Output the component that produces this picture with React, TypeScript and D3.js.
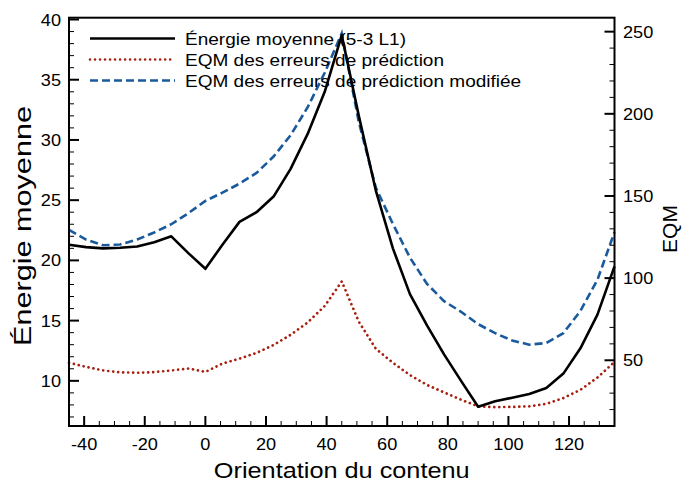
import * as d3 from "d3";

// orientation samples (degrees)
const angles = [
  -45, -39.375, -33.75, -28.125, -22.5, -16.875, -11.25, -5.625, 0, 5.625, 11.25,
  16.875, 22.5, 28.125, 33.75, 39.375, 45, 50.625, 56.25, 61.875, 67.5, 73.125,
  78.75, 84.375, 90, 95.625, 101.25, 106.875, 112.5, 118.125, 123.75, 129.375, 135,
];

// left axis: mean energy
const energie = [
  21.3, 21.1, 21.0, 21.05, 21.15, 21.5, 22.0, 20.6, 19.3, 21.3, 23.2,
  24.0, 25.3, 27.6, 30.5, 34.0, 38.7, 32.0, 25.8, 21.0, 17.2, 14.6,
  12.2, 10.0, 7.85, 8.3, 8.6, 8.9, 9.4, 10.6, 12.7, 15.5, 19.5,
];

// right axis: EQM of prediction errors
const eqm = [
  48.5, 46, 43.8, 42.7, 42.4, 42.8, 43.8, 45, 42.9, 48, 51,
  54.5, 59.3, 65.5, 73, 83, 98, 73.5, 57, 48.5, 41, 35,
  30.5, 26, 22, 21.5, 21.6, 22, 23.5, 27, 32, 39.5, 49,
];

// right axis: modified EQM
const eqmMod = [
  129.3, 123.5, 120.0, 120.5, 123.5, 127.8, 132.8, 139.5, 147.0, 152, 157.5,
  164, 174, 187, 204, 225, 249, 195, 155, 133, 112.5, 96.5,
  86, 79.5, 72, 66.5, 62, 59.5, 60.5, 66.5, 80, 99, 128,
];

const legendLabels = [
  "Énergie moyenne (5-3 L1)",
  "EQM des erreurs de prédiction",
  "EQM des erreurs de prédiction modifiée",
];

const xTicks = [-40, -20, 0, 20, 40, 60, 80, 100, 120];
const yLeftTicks = [10, 15, 20, 25, 30, 35, 40];
const yRightTicks = [50, 100, 150, 200, 250];

const W = 683;
const H = 484;
const m = { left: 69, right: 614.5, top: 17.7, bottom: 426 };
const font = "'Liberation Sans', Arial, Helvetica, sans-serif";

const black = "#000000";
const red = "#a81e0e";
const blue = "#1a5a9c";

// reference text is a bit wider than tall
const SX = 1.1;

export default function App() {
  const x = d3.scaleLinear().domain([-45, 135]).range([m.left, m.right]);
  const yL = d3.scaleLinear().domain([6.25, 40.15]).range([m.bottom, m.top]);
  const yR = d3.scaleLinear().domain([10, 258.5]).range([m.bottom, m.top]);

  const lineL = d3
    .line<number>()
    .x((_, i) => x(angles[i]))
    .y((d) => yL(d));
  const lineR = d3
    .line<number>()
    .x((_, i) => x(angles[i]))
    .y((d) => yR(d));

  const xMinor = d3.range(-45, 136, 5).filter((v) => !xTicks.includes(v));
  const yLMinor = d3.range(7, 41, 1).filter((v) => !yLeftTicks.includes(v));
  const yRMinor = d3.range(20, 251, 10).filter((v) => !yRightTicks.includes(v));

  return (
    <svg
      width={W}
      height={H}
      style={{ position: "absolute", left: 0, top: 0, background: "#fff" }}
      fontFamily={font}
    >
      {/* curves */}
      <path d={lineR(eqm) ?? ""} fill="none" stroke={red} strokeWidth={2.7}
        strokeDasharray="0.01 5" strokeLinecap="round" />
      <path d={lineR(eqmMod) ?? ""} fill="none" stroke={blue} strokeWidth={2.6}
        strokeDasharray="8 4" />
      <path d={lineL(energie) ?? ""} fill="none" stroke={black} strokeWidth={2.6}
        strokeLinejoin="round" />

      {/* frame */}
      <rect x={m.left} y={m.top} width={m.right - m.left} height={m.bottom - m.top}
        fill="none" stroke="#000" strokeWidth={2} />

      {/* bottom axis */}
      {xTicks.map((t) => (
        <g key={"xt" + t}>
          <line x1={x(t)} x2={x(t)} y1={m.bottom} y2={m.bottom - 10} stroke="#000" strokeWidth={2} />
          <text transform={`translate(${x(t)},450) scale(${SX},1)`} textAnchor="middle" fontSize={16.5}>{t}</text>
        </g>
      ))}
      {xMinor.map((t) => (
        <line key={"xm" + t} x1={x(t)} x2={x(t)} y1={m.bottom} y2={m.bottom - 5} stroke="#000" strokeWidth={1} />
      ))}
      <text transform={`translate(${(m.left + m.right) / 2},478) scale(1.15,1)`} textAnchor="middle" fontSize={22}>
        Orientation du contenu
      </text>

      {/* left axis */}
      {yLeftTicks.map((t) => (
        <g key={"yl" + t}>
          <line x1={m.left} x2={m.left + 10} y1={yL(t)} y2={yL(t)} stroke="#000" strokeWidth={2} />
          <text transform={`translate(61,${yL(t) + 6}) scale(${SX},1)`} textAnchor="end" fontSize={16.5}>{t}</text>
        </g>
      ))}
      {yLMinor.map((t) => (
        <line key={"ylm" + t} x1={m.left} x2={m.left + 5} y1={yL(t)} y2={yL(t)} stroke="#000" strokeWidth={1} />
      ))}
      <text transform={`translate(31,226) rotate(-90)`} textAnchor="middle" fontSize={23}
        textLength={240} lengthAdjust="spacingAndGlyphs">
        Énergie moyenne
      </text>

      {/* right axis */}
      {yRightTicks.map((t) => (
        <g key={"yr" + t}>
          <line x1={m.right} x2={m.right - 10} y1={yR(t)} y2={yR(t)} stroke="#000" strokeWidth={2} />
          <text transform={`translate(623,${yR(t) + 6}) scale(${SX},1)`} textAnchor="start" fontSize={16.5}>{t}</text>
        </g>
      ))}
      {yRMinor.map((t) => (
        <line key={"yrm" + t} x1={m.right} x2={m.right - 5} y1={yR(t)} y2={yR(t)} stroke="#000" strokeWidth={1} />
      ))}
      <text transform={`translate(677,229) rotate(-90)`} textAnchor="middle" fontSize={21}>
        EQM
      </text>

      {/* legend */}
      {legendLabels.map((lab, i) => {
        const ly = 38.5 + i * 21;
        const style =
          i === 0
            ? { stroke: black, dash: undefined, cap: "butt" as const }
            : i === 1
            ? { stroke: red, dash: "0.01 5", cap: "round" as const }
            : { stroke: blue, dash: "8 4", cap: "butt" as const };
        return (
          <g key={lab}>
            <line x1={90} x2={175} y1={ly} y2={ly} stroke={style.stroke} strokeWidth={2.6}
              strokeDasharray={style.dash} strokeLinecap={style.cap} />
            <text transform={`translate(185,${ly + 6}) scale(1.12,1)`} fontSize={17}>{lab}</text>
          </g>
        );
      })}
    </svg>
  );
}
